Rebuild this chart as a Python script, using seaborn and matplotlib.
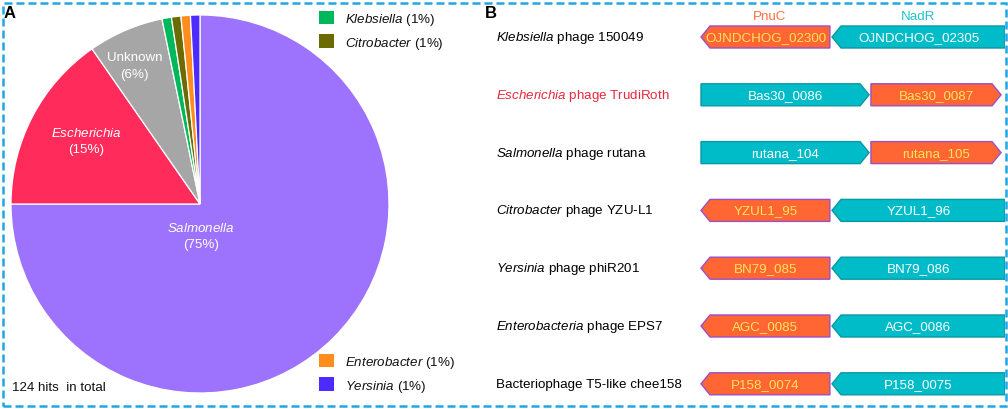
import numpy as np
import matplotlib
matplotlib.use("Agg")
import matplotlib.pyplot as plt
import seaborn as sns
from matplotlib.patches import Polygon, Rectangle, Patch

sns.set_theme(style="white")
plt.rcParams['font.family'] = ['Liberation Sans', 'DejaVu Sans']
plt.rcParams['mathtext.fontset'] = 'custom'
plt.rcParams['mathtext.rm'] = 'Liberation Sans'
plt.rcParams['mathtext.it'] = 'Liberation Sans:italic'
plt.rcParams['mathtext.bf'] = 'Liberation Sans:bold'

FS = 9.6

# ---------------- data: panel A ----------------
genera = ["Salmonella", "Escherichia", "Unknown", "Klebsiella",
          "Citrobacter", "Enterobacter", "Yersinia"]
hits = [93, 19, 8, 1, 1, 1, 1]
percents = [75, 15, 6, 1, 1, 1, 1]
genus_colors = ["#9D72FC", "#FF2B5A", "#A6A6A6", "#00B85C",
                "#6B6B00", "#FF8C1F", "#4A2CFF"]
total_hits = 124

# ---------------- data: panel B ----------------
phage_genus = ["Klebsiella", "Escherichia", "Salmonella", "Citrobacter",
               "Yersinia", "Enterobacteria", ""]
phage_rest = ["phage 150049", "phage TrudiRoth", "phage rutana",
              "phage YZU-L1", "phage phiR201", "phage EPS7",
              "Bacteriophage T5-like chee158"]
label_colors = ["#000000", "#E8283C", "#000000", "#000000",
                "#000000", "#000000", "#000000"]
pnuc_ids = ["OJNDCHOG_02300", "Bas30_0087", "rutana_105", "YZUL1_95",
            "BN79_085", "AGC_0085", "P158_0074"]
nadr_ids = ["OJNDCHOG_02305", "Bas30_0086", "rutana_104", "YZUL1_96",
            "BN79_086", "AGC_0086", "P158_0075"]
# gene extents in relative locus units (0-100)
pnuc_start = [0.0, 55.9, 55.9, 0.0, 0.0, 0.0, 0.0]
pnuc_end = [42.4, 98.7, 98.7, 42.4, 42.4, 42.4, 42.4]
nadr_start = [43.1, 0.0, 0.0, 43.1, 43.1, 43.1, 43.1]
nadr_end = [100.0, 55.3, 55.3, 100.0, 100.0, 100.0, 100.0]
strand = [-1, 1, 1, -1, -1, -1, -1]

PNUC_FACE, PNUC_EDGE, PNUC_TEXT = "#FF6633", "#9B4FC8", "#FFE45C"
NADR_FACE, NADR_EDGE, NADR_TEXT = "#00BCC9", "#0A98A4", "#FFFFFF"

W, H = 1008, 410
fig = plt.figure(figsize=(W / 100, H / 100), dpi=100)
fig.patch.set_facecolor("white")

# ---------------- panel A: pie ----------------
cx, cy, r = 200, 205, 189
axA = fig.add_axes([(cx - r) / W, (H - cy - r) / H, 2 * r / W, 2 * r / H])
wedges, _ = axA.pie(hits, colors=genus_colors, startangle=90, counterclock=False,
                    wedgeprops=dict(edgecolor="white", linewidth=0.9))
axA.set_xlim(-1, 1)
axA.set_ylim(-1, 1)
axA.set_aspect("auto")
axA.axis("off")

def wedge_pos(w, rad, dang=0.0):
    a = np.deg2rad((w.theta1 + w.theta2) / 2 + dang)
    return rad * np.cos(a), rad * np.sin(a)

x, y = wedge_pos(wedges[1], 0.69, -1.5)
axA.text(x, y, r"$\mathit{%s}$" % genera[1] + "\n(%d%%)" % percents[1],
         ha="center", va="center", color="white", fontsize=FS, linespacing=1.45)
x, y = wedge_pos(wedges[2], 0.81, 2.0)
axA.text(x, y, "%s\n(%d%%)" % (genera[2], percents[2]),
         ha="center", va="center", color="white", fontsize=FS, linespacing=1.45)
axA.text(0.005, -0.165, r"$\mathit{%s}$" % genera[0] + "\n(%d%%)" % percents[0],
         ha="center", va="center", color="white", fontsize=FS, linespacing=1.45)

def leg_label(i):
    return r"$\mathit{%s}$ (%d%%)" % (genera[i], percents[i])

leg_kw = dict(frameon=False, fontsize=FS, handlelength=1.15, handleheight=1.15,
              handletextpad=0.8, labelspacing=0.55, borderpad=0, borderaxespad=0,
              loc="upper left", labelcolor="#111111")
h_top = [Patch(facecolor=genus_colors[i], edgecolor="none") for i in (3, 4)]
fig.legend(h_top, [leg_label(3), leg_label(4)],
           bbox_to_anchor=(319 / W, 1 - 12 / H), **leg_kw)
h_bot = [Patch(facecolor=genus_colors[i], edgecolor="none") for i in (5, 6)]
fig.legend(h_bot, [leg_label(5), leg_label(6)],
           bbox_to_anchor=(319 / W, 1 - 355 / H), **leg_kw)

fig.text(12 / W, 1 - 388 / H, "%d hits  in total" % total_hits,
         fontsize=FS, va="center", ha="left", color="#111111")
fig.text(4 / W, 1 - 13 / H, "A", fontsize=12, fontweight="bold",
         va="center", ha="left", color="black")
fig.text(485 / W, 1 - 13 / H, "B", fontsize=12, fontweight="bold",
         va="center", ha="left", color="black")

# ---------------- panel B: gene arrows ----------------
px_per_unit = 3.04
lane0_px = 701
row0_px, row_step = 38, 57.8
axB = fig.add_axes([480 / W, 0, 525 / W, 1])
axB.set_xlim((480 - lane0_px) / px_per_unit, 100)
axB.set_ylim((H - row0_px) / row_step, -row0_px / row_step)
axB.axis("off")

half_h = 11 / row_step
head = 9 / px_per_unit

def gene_arrow(ax, start, end, row, direction, face, edge):
    top, bot = row - half_h, row + half_h
    if direction > 0:
        pts = [(start, top), (end - head, top), (end, row),
               (end - head, bot), (start, bot)]
    else:
        pts = [(start, row), (start + head, top), (end, top),
               (end, bot), (start + head, bot)]
    ax.add_patch(Polygon(pts, closed=True, facecolor=face, edgecolor=edge,
                         linewidth=1.0, joinstyle="miter"))

for i in range(len(phage_rest)):
    gene_arrow(axB, pnuc_start[i], pnuc_end[i], i, strand[i], PNUC_FACE, PNUC_EDGE)
    gene_arrow(axB, nadr_start[i], nadr_end[i], i, strand[i], NADR_FACE, NADR_EDGE)
    axB.text((pnuc_start[i] + pnuc_end[i]) / 2, i, pnuc_ids[i], ha="center",
             va="center", color=PNUC_TEXT, fontsize=FS)
    axB.text((nadr_start[i] + nadr_end[i]) / 2, i, nadr_ids[i], ha="center",
             va="center", color=NADR_TEXT, fontsize=FS)
    if phage_genus[i]:
        lab = r"$\mathit{%s}$ %s" % (phage_genus[i], phage_rest[i])
    else:
        lab = phage_rest[i]
    axB.text((496 - lane0_px) / px_per_unit, i, lab, ha="left", va="center",
             color=label_colors[i], fontsize=FS)

hdr_y = (17 - row0_px) / row_step
axB.text((pnuc_start[0] + pnuc_end[0]) / 2 + 1.5, hdr_y, "PnuC", ha="center",
         va="center", color="#FF6F3F", fontsize=FS)
axB.text((nadr_start[0] + nadr_end[0]) / 2, hdr_y, "NadR", ha="center",
         va="center", color="#22C3CF", fontsize=FS)

# ---------------- dashed frame ----------------
fig.patches.append(Rectangle((2.5 / W, 3.5 / H), 1003 / W, 403 / H,
                             transform=fig.transFigure, fill=False,
                             edgecolor="#1EA7E6", linewidth=1.8,
                             linestyle=(0, (3.2, 1.6)), zorder=10))

fig.savefig("out.png", dpi=100, facecolor="white")
